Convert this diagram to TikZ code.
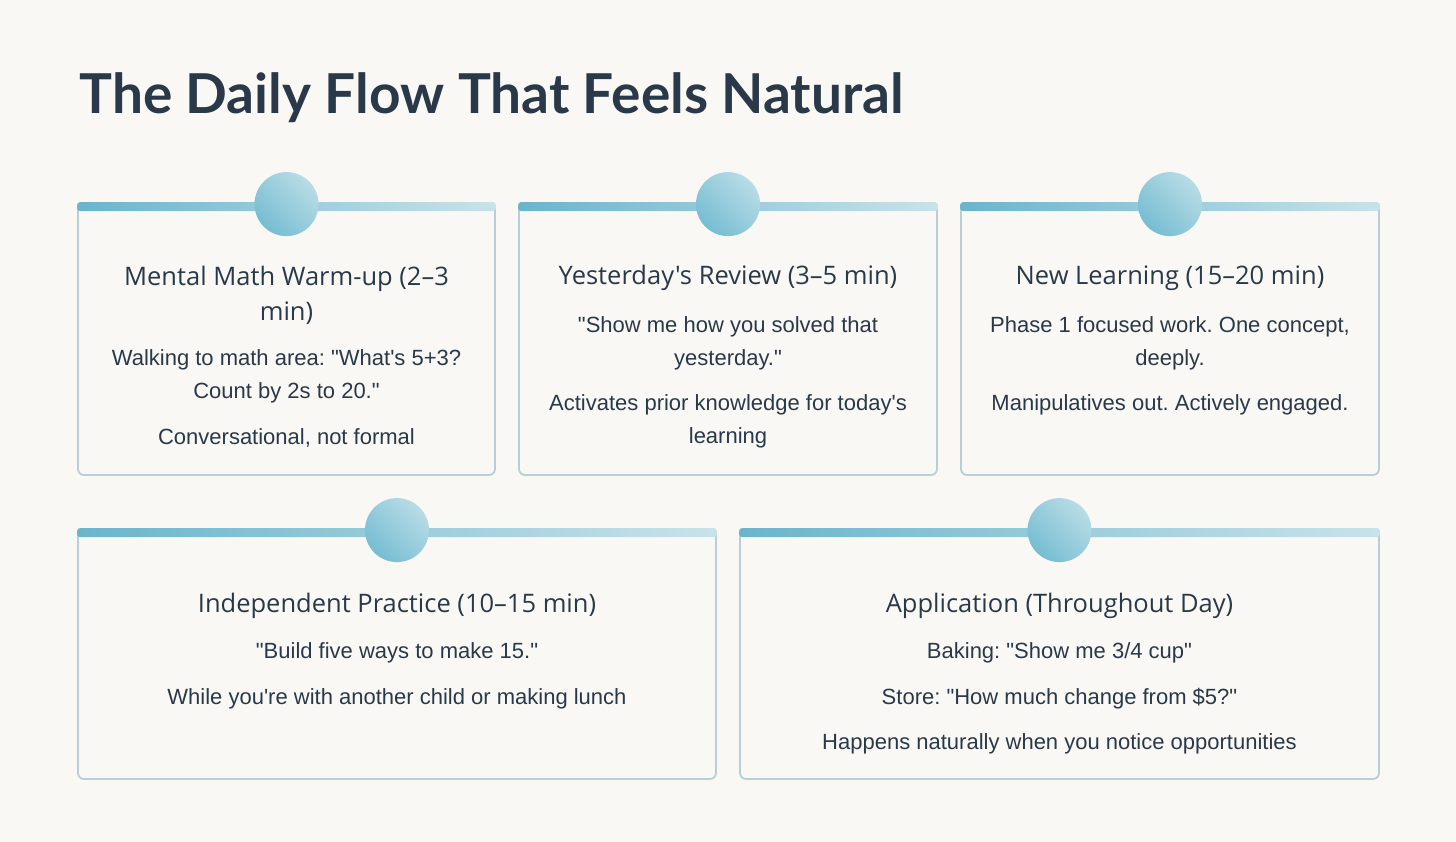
\documentclass[tikz,border=0pt]{standalone}
\usepackage{fontspec}
\newfontfamily\bodyfont{Liberation Sans}
\newfontfamily\headfont{Open Sans}
\newfontfamily\titlefont{Lato}
\usetikzlibrary{positioning}
\frenchspacing

\definecolor{paper}{HTML}{F9F8F5}
\definecolor{ink}{HTML}{2A3949}
\definecolor{edge}{HTML}{B9CED5}
\definecolor{barL}{HTML}{6AB5CB}
\definecolor{barR}{HTML}{C9E2EA}
\definecolor{dotD}{HTML}{76BDD2}
\definecolor{dotL}{HTML}{B8DCE6}

\begin{document}
\begin{tikzpicture}[x=1pt, y=-1pt,
    card/.style={draw=edge, line width=1.8pt, fill=paper, rounded corners=6pt,
      inner sep=0pt},
    bar/.style={left color=barL, right color=barR, rounded corners=3pt},
    dot/.style={circle, minimum size=64pt, inner sep=0pt,
      left color=dotD, right color=dotL, shading angle=135},
    head/.style={font=\headfont\fontsize{25.5}{35}\selectfont, text=ink,
      align=center, anchor=base},
    body/.style={font=\bodyfont\frenchspacing\fontsize{22}{33}\selectfont, text=ink,
      align=center, anchor=base}]
  \fill[paper] (0,0) rectangle (1456,842);
  \useasboundingbox (0,0) rectangle (1456,842);

  \node[font=\titlefont\bfseries\fontsize{55}{60}\selectfont, text=ink,
    anchor=base west] (title) at (76,114) {The Daily Flow That Feels Natural};

  % cards
  \node[card, minimum width=417pt, minimum height=272pt] (c1) at (286.5,339) {};
  \node[card, minimum width=418pt, minimum height=272pt] (c2) at (728,339) {};
  \node[card, minimum width=418pt, minimum height=272pt] (c3) at (1170,339) {};
  \node[card, minimum width=638pt, minimum height=250pt] (c4) at (397,654) {};
  \node[card, minimum width=639pt, minimum height=250pt] (c5) at (1059.5,654) {};
  \foreach \c in {c1,c2,c3,c4,c5} {
    \shade[bar] (\c.north west) rectangle ([yshift=-9pt]\c.north east);
    \node[dot] (d\c) at ([yshift=-2pt]\c.north) {};
  }

  % texts (base = last line)
  \node[head] (h1) at (286.5,320) {Mental Math Warm-up (2–3\\min)};
  \node[body] (p1) at (286.5,398) {Walking to math area: "What's 5+3?\\Count by 2s to 20."};
  \node[body] (q1) at (286.5,444) {Conversational, not formal};

  \node[head] (h2) at (728,285) {Yesterday's Review (3–5 min)};
  \node[body] (p2) at (728,365) {"Show me how you solved that\\yesterday."};
  \node[body] (q2) at (728,443) {Activates prior knowledge for today's\\learning};

  \node[head] (h3) at (1170,285) {New Learning (15–20 min)};
  \node[body] (p3) at (1170,365) {Phase 1 focused work. One concept,\\deeply.};
  \node[body] (q3) at (1170,410) {Manipulatives out. Actively engaged.};

  \node[head] (h4) at (397,612) {Independent Practice (10–15 min)};
  \node[body] (p4) at (397,658) {"Build five ways to make 15."};
  \node[body] (q4) at (397,704) {While you're with another child or making lunch};

  \node[head] (h5) at (1059.5,612) {Application (Throughout Day)};
  \node[body] (p5) at (1059.5,658) {Baking: "Show me 3/4 cup"};
  \node[body] (q5) at (1059.5,704) {Store: "How much change from \$5?"};
  \node[body] (r5) at (1059.5,749) {Happens naturally when you notice opportunities};
\end{tikzpicture}
\end{document}
